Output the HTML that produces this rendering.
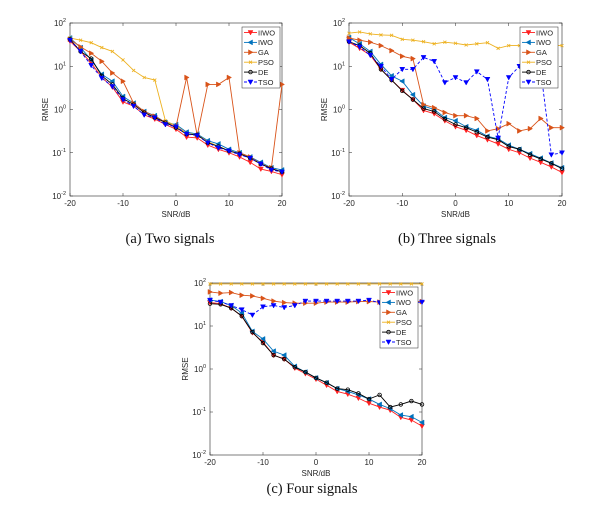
<!DOCTYPE html>
<html><head><meta charset="utf-8"><style>
body{margin:0;background:#fff;width:614px;height:517px;overflow:hidden}
svg{position:absolute;left:0;top:0}
text{font-family:"Liberation Sans",sans-serif}
.cap{font-family:"Liberation Serif",serif;font-size:14.5px}
</style></head><body>
<svg id="s" width="614" height="517"></svg>
<script>
const snr=[-20,-18,-16,-14,-12,-10,-8,-6,-4,-2,0,2,4,6,8,10,12,14,16,18,20];
const xTicks=[-20,-10,0,10,20];
const yTickExp=[-2,-1,0,1,2];
const seriesNames=["IIWO","IWO","GA","PSO","DE","TSO"];
// Chart a
const a_IIWO=[38,22,12,5.5,3.3,1.5,1.2,0.75,0.6,0.45,0.35,0.23,0.22,0.15,0.12,0.1,0.08,0.06,0.042,0.037,0.031];
const a_IWO=[45,27,14,6.5,4.5,2,1.4,0.9,0.72,0.5,0.45,0.3,0.27,0.19,0.16,0.12,0.1,0.08,0.06,0.045,0.04];
const a_GA=[42,28,20,13,7,4.5,1.4,0.9,0.7,0.5,0.4,5.5,0.25,3.8,3.8,5.5,0.1,0.08,0.055,0.045,3.8];
const a_PSO=[45,40,35,27,22,14,8,5.5,4.8,0.55,0.42,0.28,0.26,0.18,0.14,0.11,0.095,0.075,0.055,0.043,0.036];
const a_DE=[42,22,15,6,3.8,1.8,1.3,0.85,0.65,0.5,0.38,0.27,0.26,0.17,0.14,0.11,0.095,0.075,0.055,0.043,0.036];
const a_TSO=[40,22,10.5,5.3,3.4,1.7,1.2,0.75,0.65,0.45,0.4,0.27,0.25,0.17,0.13,0.11,0.09,0.075,0.055,0.04,0.036];
// Chart b
const b_IIWO=[36,26,18,8.5,4.8,2.8,1.7,0.95,0.8,0.55,0.4,0.33,0.25,0.2,0.16,0.12,0.1,0.075,0.06,0.047,0.035];
const b_IWO=[46,33,22,11,6,4.5,2.2,1.2,1.0,0.65,0.55,0.4,0.33,0.24,0.21,0.15,0.12,0.095,0.075,0.058,0.045];
const b_GA=[45,40,36,30,23,17,15,1.3,1.1,0.85,0.72,0.72,0.62,0.32,0.36,0.47,0.32,0.36,0.62,0.38,0.38];
const b_PSO=[58,62,56,53,52,42,40,37,33,36,34,31,33,35,26,30,30,30,30,30,30];
const b_DE=[37,30,20,8.5,4.8,2.7,1.7,1.05,0.9,0.6,0.45,0.38,0.3,0.23,0.2,0.14,0.12,0.09,0.072,0.057,0.043];
const b_TSO=[37,28,18,10,5,8.5,8.5,16,13,4.2,5.5,4.2,7.5,5,0.22,5.5,10,12,8,0.09,0.1];
// Chart c
const c_IIWO=[35,33,26,17,7,4.2,2.1,1.7,1.05,0.78,0.58,0.42,0.3,0.26,0.21,0.16,0.13,0.11,0.075,0.065,0.047];
const c_IWO=[40,37,30,20,7.5,5,2.6,2.1,1.15,0.85,0.62,0.48,0.35,0.3,0.25,0.2,0.15,0.12,0.085,0.078,0.057];
const c_GA=[62,58,60,52,50,44,38,35,34,34,34,36,36,36,37,37,36,36,36,37,37];
const c_PSO=[95,95,95,95,95,95,95,95,95,95,95,95,95,95,95,95,95,95,95,95,95];
const c_DE=[33,32,26,17,7.2,4,2.1,1.7,1.1,0.85,0.62,0.48,0.35,0.33,0.27,0.2,0.25,0.13,0.15,0.18,0.15];
const c_TSO=[40,36,30,24,18,28,30,27,30,38,38,38,38,38,38,40,35,35,35,35,36];

const NS="http://www.w3.org/2000/svg";
const S=document.getElementById('s');
function mk(tag,attrs,parent){const e=document.createElementNS(NS,tag);for(const k in attrs)e.setAttribute(k,attrs[k]);(parent||S).appendChild(e);return e;}
const colors={IIWO:"#ff2020",IWO:"#0072bd",GA:"#d95319",PSO:"#edb120",DE:"#000000",TSO:"#0000ff"};
function marker(g,name,x,y){
  const c=colors[name];let e;
  if(name==="IIWO"||name==="TSO"){e=mk('path',{d:`M${x-2.5},${y-2} L${x+2.5},${y-2} L${x},${y+2.5} Z`,fill:c,stroke:c,'stroke-width':0.5},g);}
  else if(name==="IWO"){e=mk('path',{d:`M${x-2.5},${y} L${x+2},${y-2.5} L${x+2},${y+2.5} Z`,fill:c,stroke:c,'stroke-width':0.5},g);}
  else if(name==="GA"){e=mk('path',{d:`M${x+2.5},${y} L${x-2},${y-2.5} L${x-2},${y+2.5} Z`,fill:c,stroke:c,'stroke-width':0.5},g);}
  else if(name==="PSO"){e=mk('path',{d:`M${x-1.5},${y-1.5} L${x+1.5},${y+1.5} M${x-1.5},${y+1.5} L${x+1.5},${y-1.5}`,stroke:c,'stroke-width':0.8},g);}
  else {e=mk('circle',{cx:x,cy:y,r:1.8,fill:'none',stroke:c,'stroke-width':0.8},g);}
  
  
}
function chart(id,x0,x1,y0,y1,data,leg,cap,capx,capy){
  const g=mk('g',{});
  
  
  const X=v=>x0+(v+20)/40*(x1-x0);
  const Y=v=>y1-(Math.log10(v)+2)/4*(y1-y0);
  const box=mk('rect',{x:x0,y:y0,width:x1-x0,height:y1-y0,fill:'#fff',stroke:'#262626','stroke-width':0.6},g);
  
  
  xTicks.forEach(t=>{
    const px=X(t);
    mk('line',{x1:px,x2:px,y1:y1,y2:y1-3,stroke:'#262626','stroke-width':0.5},g);
    mk('line',{x1:px,x2:px,y1:y0,y2:y0+3,stroke:'#262626','stroke-width':0.5},g);
    const tx=mk('text',{x:px,y:y1+10,'font-size':8,'text-anchor':'middle',fill:'#262626'},g);tx.textContent=t;
    
    
  });
  yTickExp.forEach(e=>{
    const py=Y(Math.pow(10,e));
    mk('line',{x1:x0,x2:x0+3,y1:py,y2:py,stroke:'#262626','stroke-width':0.5},g);
    mk('line',{x1:x1,x2:x1-3,y1:py,y2:py,stroke:'#262626','stroke-width':0.5},g);
    const tx=mk('text',{x:x0-4,y:py+3,'font-size':8,'text-anchor':'end',fill:'#262626'},g);
    tx.innerHTML='10<tspan dy="-4" font-size="5.5">'+e+'</tspan>';
    
    
  });
  const xl=mk('text',{x:(x0+x1)/2,y:y1+21,'font-size':8,'text-anchor':'middle',fill:'#262626'},g);xl.textContent='SNR/dB';
  
  
  const yl=mk('text',{x:0,y:0,'font-size':8,'text-anchor':'middle',fill:'#262626',transform:`translate(${x0-22},${(y0+y1)/2}) rotate(-90)`},g);yl.textContent='RMSE';
  
  
  seriesNames.forEach((n,i)=>{
    const vals=data[i];
    const sg=mk('g',{},g);
    
    
    const d=vals.map((v,j)=>(j?'L':'M')+X(snr[j]).toFixed(2)+','+Y(v).toFixed(2)).join(' ');
    const p=mk('path',{d:d,fill:'none',stroke:colors[n],'stroke-width':0.9,'stroke-dasharray':n==='TSO'?'3,2':'none'},sg);
    
    
    vals.forEach((v,j)=>marker(sg,n,X(snr[j]),Y(v)));
  });
  const lg=mk('g',{},g);
  
  
  mk('rect',{x:leg[0],y:leg[1],width:38,height:61,fill:'#fff',stroke:'#262626','stroke-width':0.5},lg);
  seriesNames.forEach((n,i)=>{
    const ly=leg[1]+5.5+i*9.9;
    const eg=mk('g',{},lg);
    
    
    mk('line',{x1:leg[0]+2,x2:leg[0]+15,y1:ly,y2:ly,stroke:colors[n],'stroke-width':0.9,'stroke-dasharray':n==='TSO'?'3,2':'none'},eg);
    marker(eg,n,leg[0]+8.5,ly);
    const t=mk('text',{x:leg[0]+16,y:ly+2.8,'font-size':7.5,fill:'#262626'},eg);t.textContent=n;
  });
  const c=mk('text',{x:capx,y:capy,'text-anchor':'middle',class:'cap',fill:'#111'},g);c.textContent=cap;
  
  
}
chart('a',70,282,23,196,[a_IIWO,a_IWO,a_GA,a_PSO,a_DE,a_TSO],[242,27],'(a)  Two signals',170,243);
chart('b',349,562,23,196,[b_IIWO,b_IWO,b_GA,b_PSO,b_DE,b_TSO],[520,27],'(b)  Three signals',447,243);
chart('c',210,422,283,455,[c_IIWO,c_IWO,c_GA,c_PSO,c_DE,c_TSO],[380,287],'(c)  Four signals',312,493);
</script>
</body></html>
